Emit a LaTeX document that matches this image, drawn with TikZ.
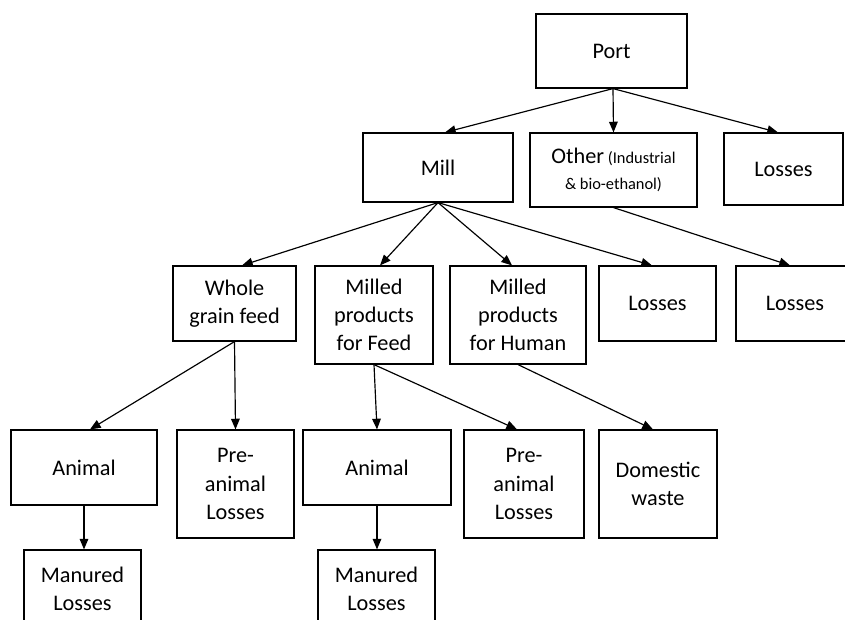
\documentclass[tikz,border=0pt]{standalone}
\usepackage{fontspec}
\setmainfont{Carlito}
\usepackage{tikz}
\usetikzlibrary{arrows.meta,calc}

\tikzset{
  box/.style={draw, rectangle, line width=1pt, align=center, inner sep=0pt,
    font=\fontsize{19}{24}\selectfont},
  flow/.style={-{Triangle[length=3.2mm,width=2.6mm]}, line width=1pt}
}

\begin{document}
\begin{tikzpicture}[x=0.03cm, y=-0.03cm]
\useasboundingbox (0,0) rectangle (845,619);
% Define nodes
\node[box, minimum width=4.53cm, minimum height=2.22cm] (port) at (611.5,51) {Port};
\node[box, minimum width=4.5cm, minimum height=2.07cm] (mill) at (438,167.5) {Mill};
\node[box, minimum width=5.01cm, minimum height=2.22cm] (other) at (613.5,170)
  {Other{\fontsize{14}{18}\selectfont\ (Industrial}\\[-2pt]{\fontsize{14}{18}\selectfont \& bio-ethanol)}};
\node[box, minimum width=3.57cm, minimum height=2.16cm] (topLosses) at (783.5,169) {Losses};
\node[box, minimum width=3.69cm, minimum height=2.25cm] (whole) at (234.5,303.5) {Whole\\grain feed};
\node[box, minimum width=3.54cm, minimum height=2.94cm] (feed) at (374,315) {Milled\\products\\for Feed};
\node[box, minimum width=4.08cm, minimum height=2.94cm] (human) at (518,315) {Milled\\products\\for Human};
\node[box, minimum width=3.51cm, minimum height=2.25cm] (millLosses) at (657.5,303.5) {Losses};
\node[box, minimum width=3.54cm, minimum height=2.25cm] (otherLosses) at (795,303.5) {Losses};
\node[box, minimum width=4.38cm, minimum height=2.25cm] (animalA) at (84,467.5) {Animal};
\node[box, minimum width=3.51cm, minimum height=3.24cm] (preA) at (235.5,484) {Pre-\\animal\\Losses};
\node[box, minimum width=4.44cm, minimum height=2.25cm] (animalB) at (377,467.5) {Animal};
\node[box, minimum width=3.6cm, minimum height=3.24cm] (preB) at (524,484) {Pre-\\animal\\Losses};
\node[box, minimum width=3.54cm, minimum height=3.24cm] (domestic) at (658,484) {Domestic\\waste};
\node[box, minimum width=3.51cm, minimum height=2.31cm] (manuredA) at (82.5,588.5) {Manured\\Losses};
\node[box, minimum width=3.51cm, minimum height=2.31cm] (manuredB) at (376.5,588.5) {Manured\\Losses};

% Draw arrows
\draw[flow] ($(port.south)+(1.5,0)$) -- ($(mill.north)+(7,0)$);
\draw[flow] ($(port.south)+(1.5,0)$) -- (other.north);
\draw[flow] ($(port.south)+(1.5,0)$) -- ($(topLosses.north)+(-5.5,0)$);
\draw[flow] (mill.south) -- ($(whole.north)+(7.5,0)$);
\draw[flow] (mill.south) -- ($(feed.north)+(6,0)$);
\draw[flow] (mill.south) -- ($(human.north)+(-6,0)$);
\draw[flow] (mill.south) -- ($(millLosses.north)+(-5.5,0)$);
\draw[flow] (other.south) -- ($(otherLosses.north)+(-5,0)$);
\draw[flow] (whole.south) -- ($(animalA.north)+(6,0)$);
\draw[flow] (whole.south) -- (preA.north);
\draw[flow] (feed.south) -- (animalB.north);
\draw[flow] (feed.south) -- ($(preB.north)+(-7,0)$);
\draw[flow] (human.south) -- ($(domestic.north)+(-5,0)$);
\draw[flow] (animalA.south) -- (animalA.south |- manuredA.north);
\draw[flow] (animalB.south) -- (animalB.south |- manuredB.north);
\end{tikzpicture}
\end{document}
